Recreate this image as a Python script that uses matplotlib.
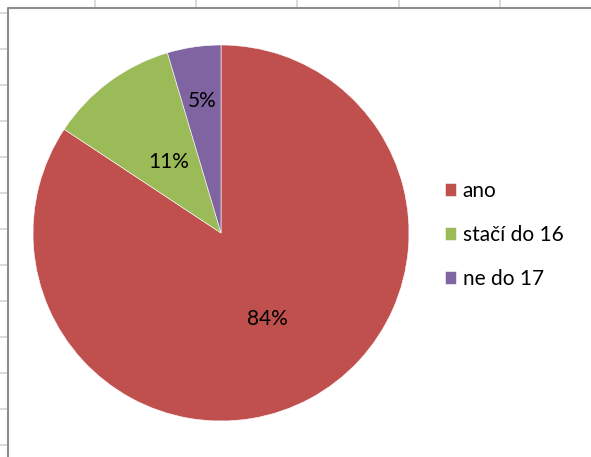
import matplotlib.pyplot as plt
from matplotlib.lines import Line2D
import numpy as np

# data
labels = ["ano", "stačí do 16", "ne do 17"]
shares = [84.3, 11.1, 4.6]
colors = ["#C0504D", "#9BBB59", "#8064A2"]

W, H = 591, 457


def px(x, y):
    return x / W, 1 - y / H


def main():
    plt.rcParams["font.family"] = ["Lato", "DejaVu Sans"]
    fig = plt.figure(figsize=(W / 100, H / 100), dpi=100)

    # spreadsheet grid behind the chart
    for x in [95, 196, 297, 399, 500]:
        fig.add_artist(Line2D([x / W] * 2, [1, 1 - 7 / H], color="#d4d4d4", lw=1.2))
    for y in range(13, H, 36):
        fig.add_artist(Line2D([0, 7 / W], [1 - y / H] * 2, color="#d4d4d4", lw=1.2))
    fig.add_artist(Line2D([7.5 / W, 7.5 / W, 1], [0, 1 - 7.5 / H, 1 - 7.5 / H],
                          color="#8c8c8c", lw=1.5))

    r = 188
    cx, cy = 221, 233
    ax = fig.add_axes([(cx - r) / W, (H - cy - r) / H, 2 * r / W, 2 * r / H])
    wedges, texts, autotexts = ax.pie(
        shares, colors=colors, startangle=90, counterclock=False,
        autopct="%.0f%%", radius=1,
        wedgeprops=dict(edgecolor="white", linewidth=0.4),
        textprops=dict(fontsize=15, color="black"),
    )
    # place the labels like Excel does
    dists = [0.52, 0.47, 0.71]
    for w, t, d in zip(wedges, autotexts, dists):
        a = np.deg2rad((w.theta1 + w.theta2) / 2)
        t.set_position((d * np.cos(a), d * np.sin(a)))
    ax.set_xlim(-1, 1)
    ax.set_ylim(-1, 1)

    fig.legend(wedges, labels, loc="upper left",
               bbox_to_anchor=px(445, 181), frameon=False,
               fontsize=15, handlelength=0.55, handleheight=0.55,
               handletextpad=0.3, labelspacing=1.15,
               borderpad=0, borderaxespad=0)

    fig.savefig("out.png", dpi=100)
    plt.close(fig)


if __name__ == "__main__":
    main()
